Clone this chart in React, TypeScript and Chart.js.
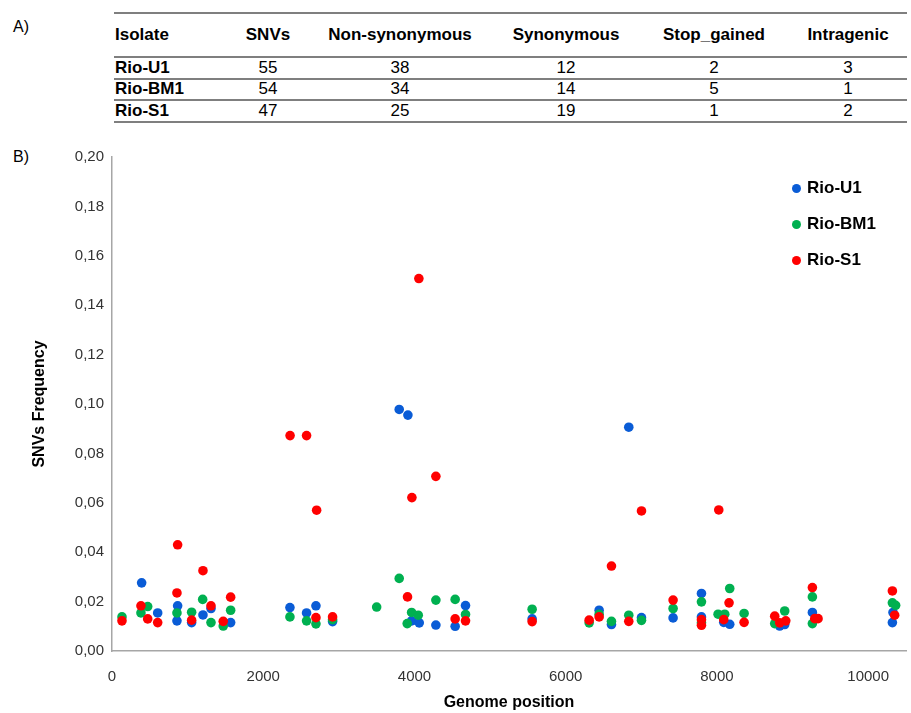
import React, { useEffect, useRef } from "react";
import { Chart, registerables } from "chart.js";

Chart.register(...registerables);

// ---------- Table data ----------
const tableHeaders = ["Isolate", "SNVs", "Non-synonymous", "Synonymous", "Stop_gained", "Intragenic"];
const isolates = ["Rio-U1", "Rio-BM1", "Rio-S1"];
const snvCounts = [55, 54, 47];
const nonSynonymous = [38, 34, 25];
const synonymous = [12, 14, 19];
const stopGained = [2, 5, 1];
const intragenic = [3, 1, 2];

// ---------- Axis ticks ----------
const xTickValues = [0, 2000, 4000, 6000, 8000, 10000];
const yTickValues = [0, 0.02, 0.04, 0.06, 0.08, 0.1, 0.12, 0.14, 0.16, 0.18, 0.2];

// ---------- Scatter data ----------
const u1Pos = [392, 604, 859, 868, 1053, 1203, 1309, 1569, 2353, 2573, 2697, 2917, 3798, 3913, 3962, 4063, 4283, 4538, 4675, 5556, 6442, 6605, 6834, 7002, 7420, 7795, 7795, 8090, 8169, 8830, 8896, 9262, 10320, 10328];
const u1Freq = [0.0276, 0.0154, 0.0122, 0.0183, 0.0115, 0.0146, 0.0172, 0.0115, 0.0176, 0.0154, 0.0183, 0.0119, 0.0978, 0.0955, 0.0122, 0.0114, 0.0105, 0.0100, 0.0184, 0.0130, 0.0165, 0.0107, 0.0906, 0.0135, 0.0134, 0.0233, 0.0138, 0.0116, 0.0108, 0.0101, 0.0107, 0.0156, 0.0115, 0.0156];

const bm1Pos = [132, 383, 472, 859, 1053, 1199, 1309, 1471, 1569, 2353, 2573, 2697, 2917, 3500, 3798, 3904, 3962, 4050, 4283, 4538, 4675, 5556, 6310, 6442, 6605, 6834, 7002, 7420, 7795, 7795, 8015, 8103, 8169, 8359, 8764, 8896, 9262, 9262, 10320, 10363];
const bm1Freq = [0.0138, 0.0154, 0.0180, 0.0154, 0.0157, 0.0209, 0.0115, 0.0101, 0.0165, 0.0138, 0.0122, 0.0110, 0.0127, 0.0178, 0.0294, 0.0111, 0.0156, 0.0145, 0.0206, 0.0209, 0.0148, 0.0169, 0.0114, 0.0149, 0.0120, 0.0145, 0.0124, 0.0172, 0.0199, 0.0114, 0.0149, 0.0149, 0.0253, 0.0152, 0.0111, 0.0162, 0.0219, 0.0111, 0.0195, 0.0185];

const s1Pos = [132, 383, 472, 604, 859, 868, 1053, 1203, 1309, 1471, 1569, 2355, 2573, 2697, 2706, 2917, 3908, 3966, 4058, 4283, 4538, 4675, 5556, 6310, 6442, 6605, 6834, 7002, 7420, 7795, 7795, 8024, 8090, 8160, 8359, 8764, 8830, 8910, 9262, 9293, 9337, 10320, 10350];
const s1Freq = [0.0122, 0.0183, 0.0130, 0.0115, 0.0235, 0.0430, 0.0125, 0.0325, 0.0183, 0.0120, 0.0218, 0.0872, 0.0872, 0.0135, 0.0570, 0.0138, 0.0219, 0.0621, 0.1508, 0.0707, 0.0130, 0.0122, 0.0119, 0.0125, 0.0138, 0.0344, 0.0120, 0.0567, 0.0206, 0.0127, 0.0104, 0.0571, 0.0127, 0.0195, 0.0116, 0.0141, 0.0114, 0.0122, 0.0257, 0.0131, 0.0131, 0.0243, 0.0145];

const seriesColors = ["#0a5cd6", "#00b050", "#ff0000"];

const FONT = "Arial, 'Liberation Sans', sans-serif";

const colCenters = [0, 268, 400, 566, 714, 848];
const rowCenters = [67.7, 89.3, 111];
const lineTops = [12, 56, 78, 99, 121];

export default function App() {
  const canvasRef = useRef<HTMLCanvasElement | null>(null);

  useEffect(() => {
    if (!canvasRef.current) return;
    const mk = (pos: number[], freq: number[]) => pos.map((x, i) => ({ x, y: freq[i] }));
    const ds = (label: string, pos: number[], freq: number[], color: string) => ({
      label,
      data: mk(pos, freq),
      backgroundColor: color,
      borderColor: color,
      pointRadius: 4.8,
      pointHoverRadius: 4.8,
      pointBorderWidth: 0,
      showLine: false,
    });
    const chart = new Chart(canvasRef.current, {
      type: "scatter",
      data: {
        datasets: [
          ds(isolates[2], s1Pos, s1Freq, seriesColors[2]),
          ds(isolates[1], bm1Pos, bm1Freq, seriesColors[1]),
          ds(isolates[0], u1Pos, u1Freq, seriesColors[0]),
        ],
      },
      options: {
        animation: false,
        responsive: false,
        layout: { padding: { top: 17, right: 5, left: 0, bottom: 0 } },
        plugins: { legend: { display: false }, tooltip: { enabled: false } },
        scales: {
          x: {
            type: "linear",
            min: 0,
            max: 10500,
            afterBuildTicks: (s: any) => {
              s.ticks = xTickValues.map((v) => ({ value: v }));
            },
            ticks: {
              padding: 17,
              color: "#333",
              maxRotation: 0,
              autoSkip: false,
              font: { family: FONT, size: 15 },
              callback: (v: any) => String(v),
            },
            grid: { display: false, drawTicks: false },
            border: { display: true, color: "#a6a6a6", width: 1.5 },
            title: {
              display: true,
              text: "Genome position",
              color: "#000",
              font: { family: FONT, size: 16, weight: "bold" },
              padding: { top: 0, bottom: 1 },
            },
            afterFit: (s: any) => {
              s.height = 62;
            },
          },
          y: {
            type: "linear",
            min: 0,
            max: 0.2,
            afterBuildTicks: (s: any) => {
              s.ticks = yTickValues.map((v) => ({ value: v }));
            },
            ticks: {
              padding: 8,
              color: "#333",
              autoSkip: false,
              font: { family: FONT, size: 15 },
              callback: (v: any) => Number(v).toFixed(2).replace(".", ","),
            },
            grid: { display: false, drawTicks: false },
            border: { display: true, color: "#a6a6a6", width: 1.5 },
            title: {
              display: true,
              text: "SNVs Frequency",
              color: "#000",
              font: { family: FONT, size: 16, weight: "bold" },
              padding: { top: 30, bottom: 0 },
            },
            afterFit: (s: any) => {
              s.width = 112;
            },
          },
        },
      },
    } as any);
    return () => chart.destroy();
  }, []);

  const rows = isolates.map((name, i) => [name, snvCounts[i], nonSynonymous[i], synonymous[i], stopGained[i], intragenic[i]]);

  return (
    <div style={{ position: "absolute", left: 0, top: 0, width: 911, height: 713, background: "#fff", fontFamily: FONT, color: "#000", overflow: "hidden" }}>
      <div style={{ position: "absolute", left: 13, top: 17, fontSize: 16, lineHeight: "20px" }}>A)</div>
      <div style={{ position: "absolute", left: 13, top: 147, fontSize: 16, lineHeight: "20px" }}>B)</div>

      {lineTops.map((t, i) => (
        <div key={"l" + i} style={{ position: "absolute", left: 114, top: t, width: 793, height: 2, background: "#7f7f7f" }} />
      ))}

      {tableHeaders.map((h, j) => (
        <div
          key={"h" + j}
          style={{
            position: "absolute",
            left: j === 0 ? 115 : colCenters[j] - 100,
            top: 23,
            width: j === 0 ? 120 : 200,
            height: 24,
            lineHeight: "24px",
            fontSize: 17,
            fontWeight: "bold",
            textAlign: j === 0 ? "left" : "center",
            whiteSpace: "nowrap",
          }}
        >
          {h}
        </div>
      ))}

      {rows.map((r, i) =>
        r.map((v, j) => (
          <div
            key={"c" + i + "_" + j}
            style={{
              position: "absolute",
              left: j === 0 ? 115 : colCenters[j] - 60,
              top: rowCenters[i] - 10,
              width: 120,
              height: 20,
              lineHeight: "20px",
              fontSize: 17,
              fontWeight: j === 0 ? "bold" : "normal",
              textAlign: j === 0 ? "left" : "center",
              whiteSpace: "nowrap",
            }}
          >
            {v}
          </div>
        ))
      )}

      <canvas ref={canvasRef} width={911} height={573} style={{ position: "absolute", left: 0, top: 140, width: 911, height: 573 }} />

      {isolates.map((name, i) => (
        <div key={"lg" + i} style={{ position: "absolute", left: 792, top: 188 + i * 36 - 12, height: 24, display: "flex", alignItems: "center" }}>
          <span style={{ display: "inline-block", width: 9, height: 9, borderRadius: "50%", background: seriesColors[i], marginRight: 6 }} />
          <span style={{ fontSize: 17, fontWeight: "bold", lineHeight: "24px" }}>{name}</span>
        </div>
      ))}
    </div>
  );
}
